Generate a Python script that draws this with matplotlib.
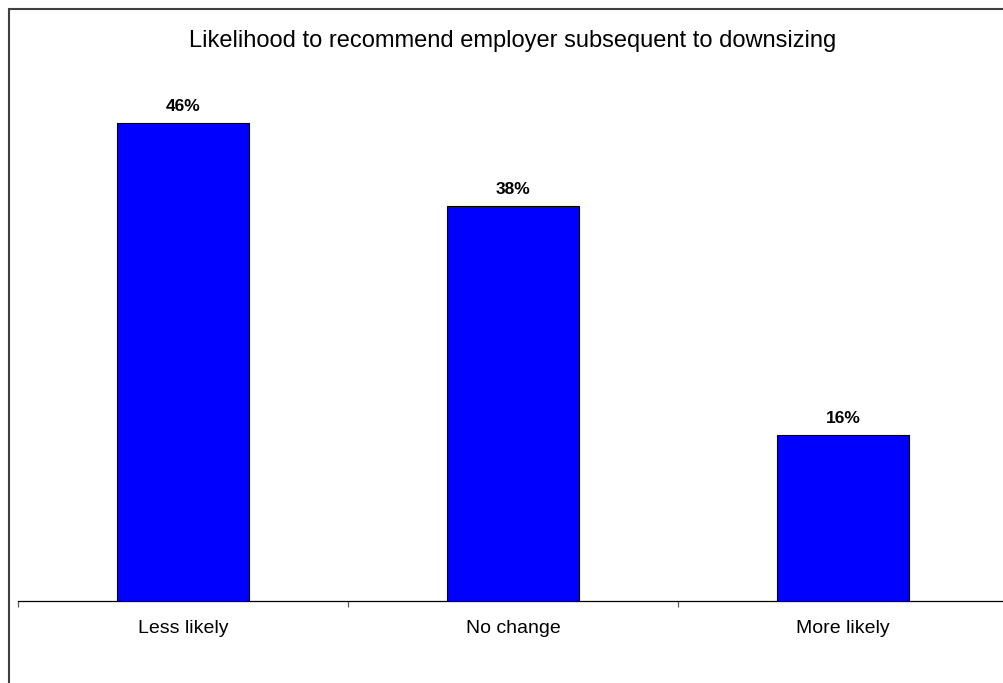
import matplotlib
matplotlib.use("Agg")
import matplotlib.pyplot as plt
from matplotlib.patches import Rectangle

plt.rcParams['font.family'] = ['Liberation Sans', 'DejaVu Sans']

categories = ["Less likely", "No change", "More likely"]
shares = [46, 38, 16]
title = "Likelihood to recommend employer subsequent to downsizing"

W, H = 1004, 683
fig = plt.figure(figsize=(W / 100, H / 100), dpi=100)

# plot area: baseline at y=601px, 330px per category
ax = fig.add_axes([18 / W, (H - 601) / H, 990 / W, 520 / H])

x = list(range(len(categories)))
ax.bar(x, shares, width=0.4, color="#0000FF", edgecolor="black", linewidth=0.8)
ax.set_xlim(-0.5, len(categories) - 0.5)
ax.set_ylim(0, 50)

for xi, v in zip(x, shares):
    ax.annotate(f"{v}%", (xi, v), xytext=(0, 6), textcoords="offset points",
                ha="center", va="bottom", fontsize=12.5, fontweight="bold")

# separator ticks between categories, labels centred on the bars
ax.set_xticks([i - 0.5 for i in range(len(categories) + 1)])
ax.set_xticklabels([])
ax.tick_params(axis="x", which="major", direction="out", length=4.5,
               width=0.9, color="#606060")
ax.set_xticks(x, minor=True)
ax.set_xticklabels(categories, minor=True, fontsize=14)
ax.tick_params(axis="x", which="minor", length=0, pad=14)

ax.set_yticks([])
for side in ("left", "right", "top"):
    ax.spines[side].set_visible(False)
ax.spines["bottom"].set_linewidth(0.9)
ax.spines["bottom"].set_color("black")

fig.text(513 / W, 1 - 41 / H, title, ha="center", va="center", fontsize=17)

# chart frame (right and bottom edges run off the image)
fig.patches.append(Rectangle((9 / W, -0.1), 1.2, 1 - 9 / H + 0.1,
                             transform=fig.transFigure, fill=False,
                             edgecolor="#404040", linewidth=1.5))

fig.savefig("out.png", dpi=100)
